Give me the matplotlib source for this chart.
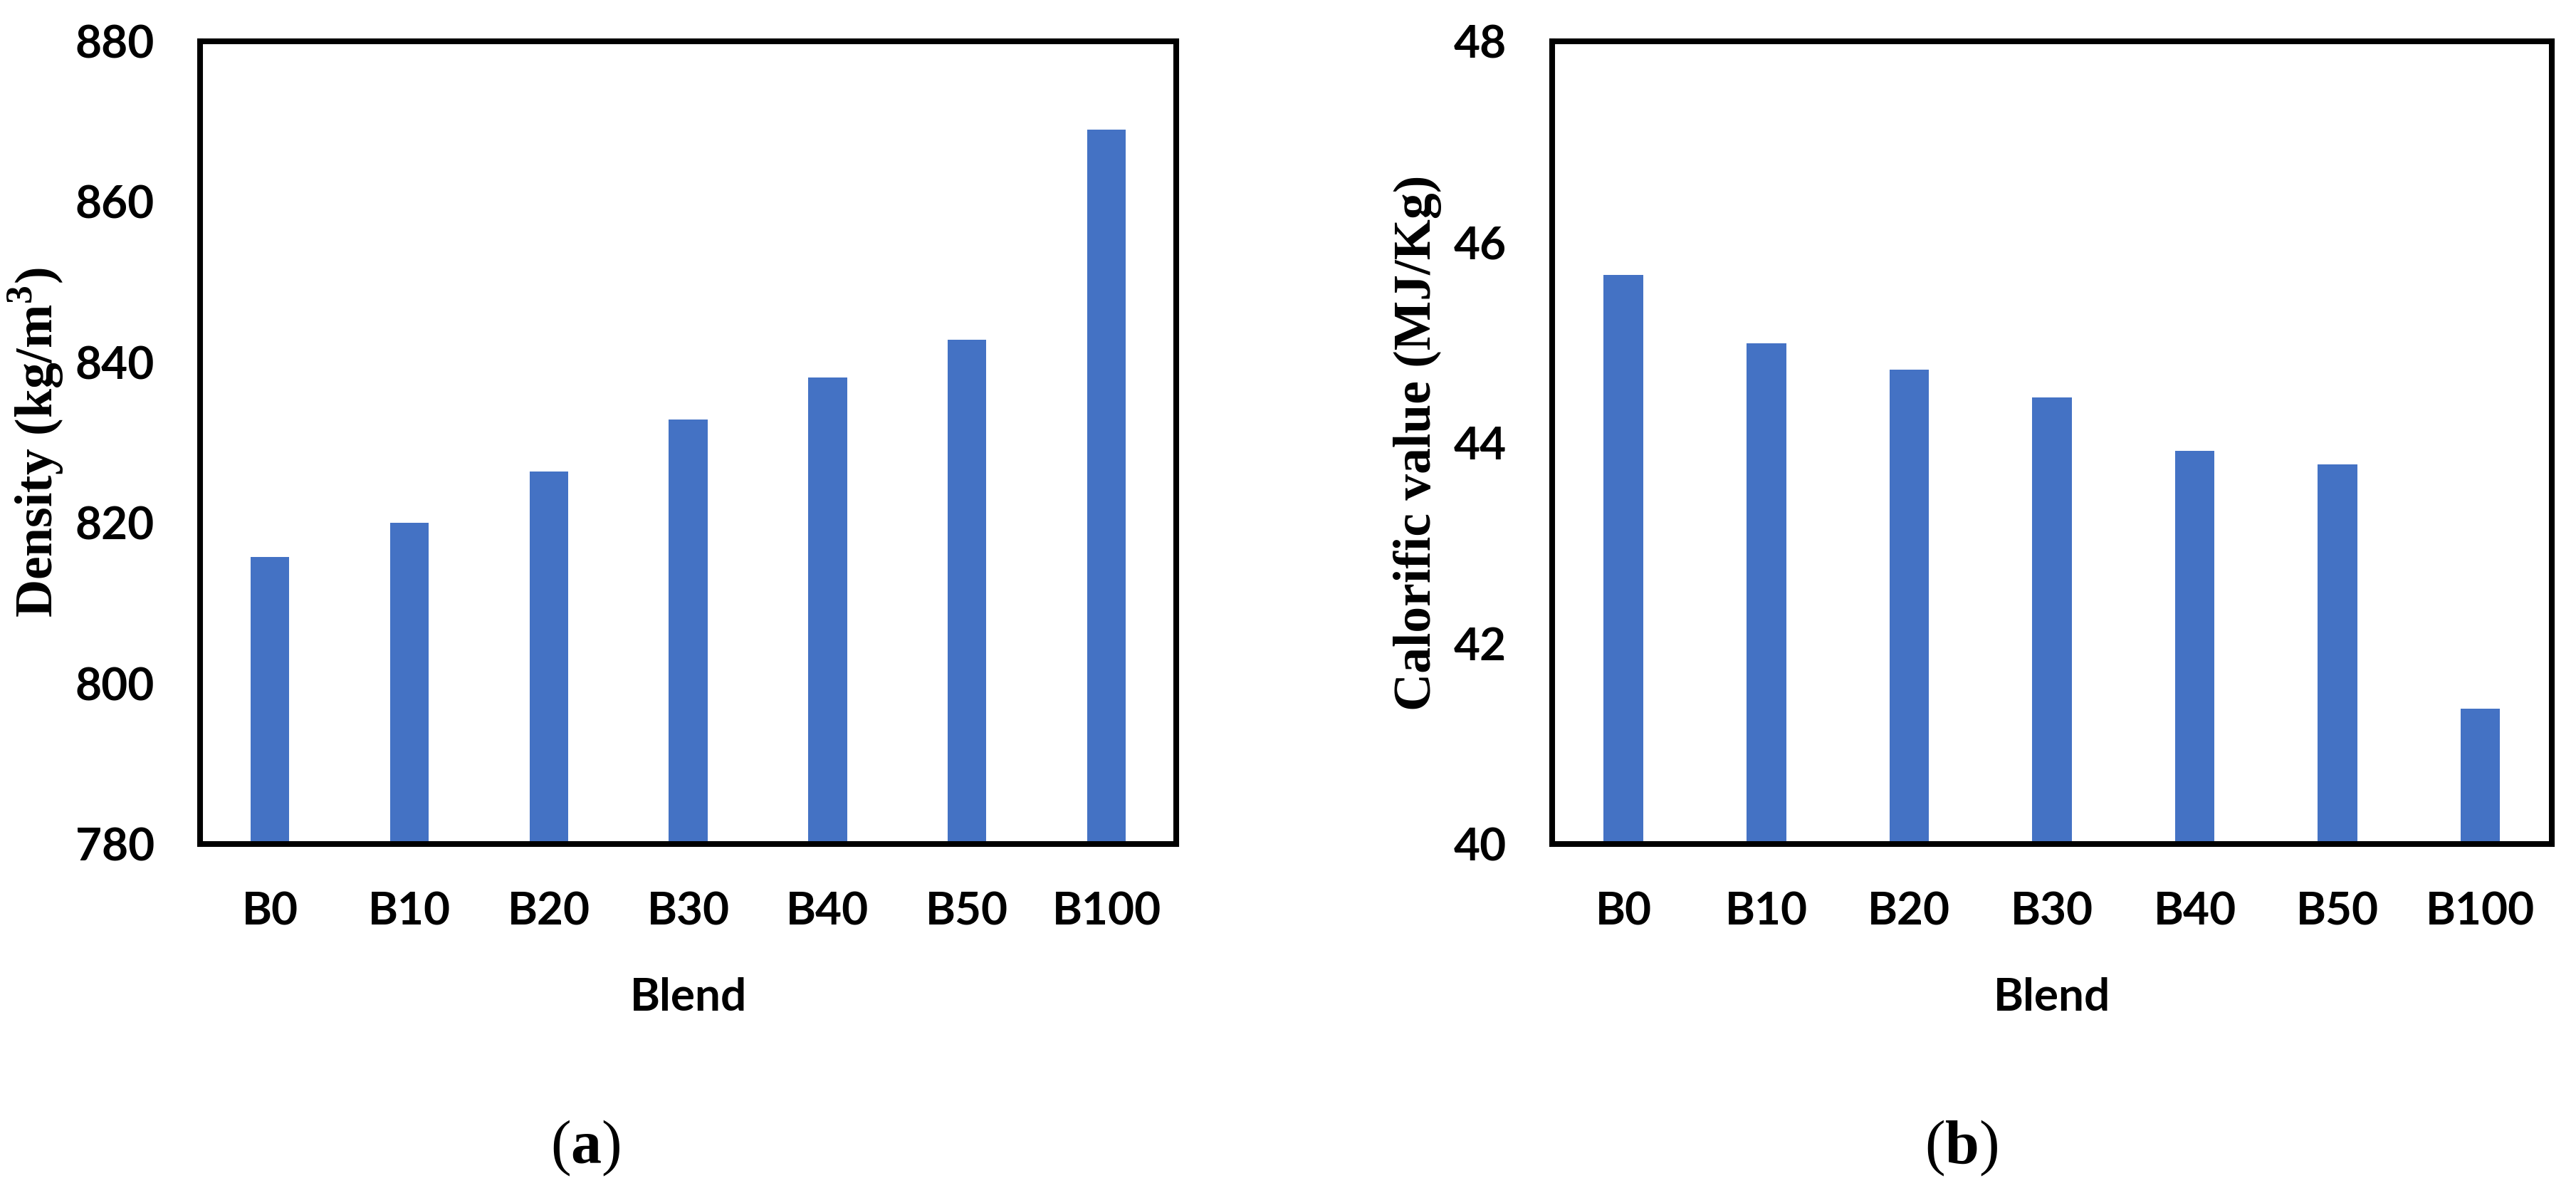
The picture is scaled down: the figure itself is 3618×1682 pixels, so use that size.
import numpy as np
import matplotlib
matplotlib.use("Agg")
import matplotlib.pyplot as plt

# data
blends = ["B0", "B10", "B20", "B30", "B40", "B50", "B100"]
density = [815.8, 820.0, 826.4, 832.9, 838.1, 842.8, 869.0]
calorific = [45.67, 44.99, 44.73, 44.45, 43.92, 43.78, 41.35]

plt.rcParams['mathtext.fontset'] = 'custom'
plt.rcParams['mathtext.rm'] = 'Liberation Serif'
plt.rcParams['mathtext.bf'] = 'Liberation Serif:bold'

bar_color = '#4472C4'
tick_font = dict(family='Lato', weight='bold', size=46)
ylab_font = dict(family='Liberation Serif', weight='bold', size=53)

fig = plt.figure(figsize=(36.18, 16.82), dpi=100)
ax1 = fig.add_axes([0.0777, 0.2955, 0.3789, 0.670])
ax2 = fig.add_axes([0.6025, 0.2955, 0.3881, 0.670])

panels = [
    (ax1, density, (780, 880), np.arange(780, 881, 20), r'Density (kg/m$^{\mathbf{3}}$)', -0.138),
    (ax2, calorific, (40, 48), np.arange(40, 49, 2), 'Calorific value (MJ/Kg)', -0.110),
]

for ax, vals, ylim, yticks, ylabel, ylab_x in panels:
    x = np.arange(len(blends))
    ax.bar(x, vals, width=0.277, color=bar_color, zorder=1)
    ax.set_xlim(-0.5, len(blends) - 0.5)
    ax.set_ylim(*ylim)
    ax.set_yticks(yticks)
    ax.set_yticklabels([str(v) for v in yticks], fontdict=tick_font)
    ax.set_xticks(x)
    ax.set_xticklabels(blends, fontdict=tick_font)
    ax.tick_params(axis='y', length=0, pad=46)
    ax.tick_params(axis='x', length=0, pad=48)
    for s in ax.spines.values():
        s.set_linewidth(5.8)
        s.set_color('black')
        s.set_zorder(3)
    ax.set_ylabel(ylabel, fontdict=ylab_font)
    ax.yaxis.set_label_coords(ylab_x, 0.5)
    ax.set_xlabel('Blend', family='Lato', weight='bold', size=46)
    ax.xaxis.set_label_coords(0.5, -0.166)

fig.text(0.2272, 0.0291, r'$\mathrm{(}\mathbf{a}\mathrm{)}$', size=62,
         ha='center', va='baseline')
fig.text(0.7615, 0.0291, r'$\mathrm{(}\mathbf{b}\mathrm{)}$', size=62,
         ha='center', va='baseline')

fig.savefig('out.png', dpi=100)
